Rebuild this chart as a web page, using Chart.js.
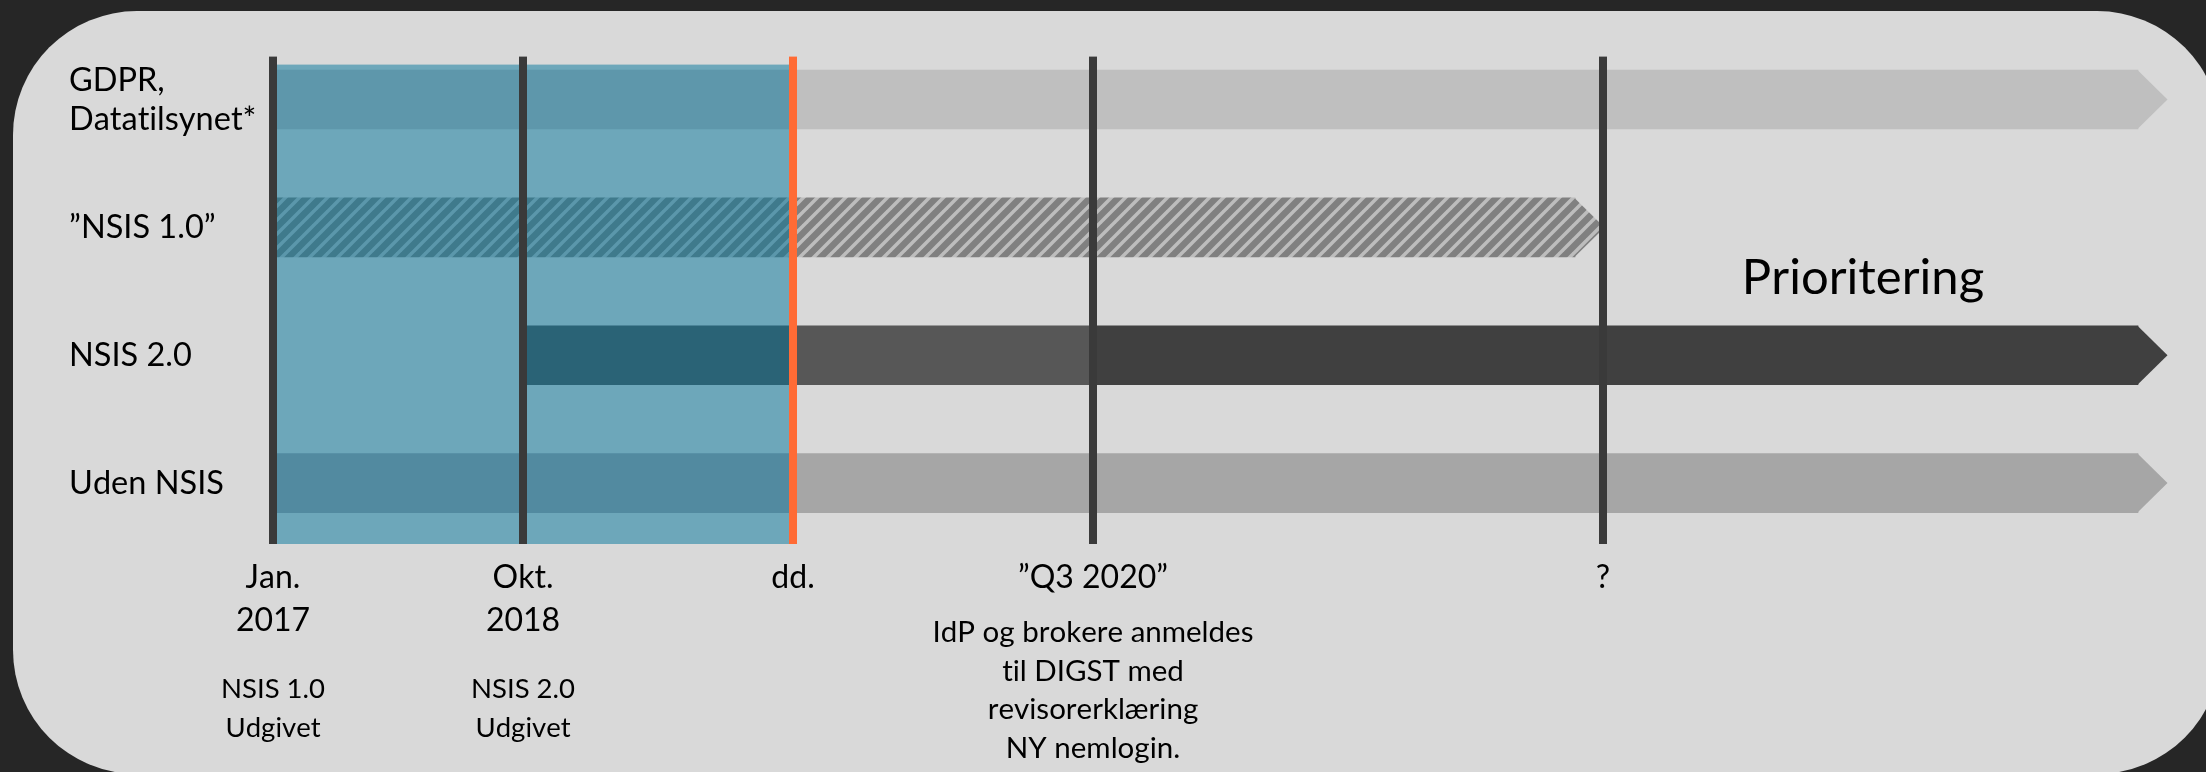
<!DOCTYPE html>
<html>
<head>
<meta charset="utf-8">
<script src="https://cdn.jsdelivr.net/npm/chart.js@4.4.1/dist/chart.umd.min.js"></script>
<style>
  html, body { margin: 0; padding: 0; background: #262626; }
  #wrap { position: relative; width: 2206px; height: 772px; overflow: hidden; }
  #panel { position: absolute; left: 13px; top: 11px; width: 2208px; height: 763px; background: #d9d9d9; border-radius: 124px; }
  #timeline { position: absolute; left: 0; top: 0; font-variant-ligatures: none; }
</style>
</head>
<body>
<div id="wrap">
  <div id="panel"></div>
  <canvas id="timeline" width="2206" height="772"></canvas>
</div>
<script>
const rows = [['GDPR,', 'Datatilsynet*'], '”NSIS 1.0”', 'NSIS 2.0', 'Uden NSIS'];

// schematic timeline units, not to calendar scale
const milestoneValues = [0, 25, 52, 82, 133];
const milestoneLabels = [['Jan.', '2017'], ['Okt.', '2018'], 'dd.', '”Q3 2020”', '?'];
const milestoneNotes = [
  ['NSIS 1.0', 'Udgivet'],
  ['NSIS 2.0', 'Udgivet'],
  [],
  ['IdP og brokere anmeldes', 'til DIGST med', 'revisorerklæring', 'NY nemlogin.'],
  []
];
const todayIndex = 2;

// bar spans per row: up to dd., from dd. on, after Q3 2020
const pastSpans = [[0, 52], [0, 52], [25, 52], [0, 52]];
const nextSpans = [[52, 186.5], [52, 130.2], [52, 82], [52, 186.5]];
const laterSpans = [null, null, [82, 186.5], null];

const priorityLabel = 'Prioritering';
const priorityAt = 159;

function stripes(dark, light) {
  const size = 14;
  const c = document.createElement('canvas');
  c.width = size; c.height = size;
  const g = c.getContext('2d');
  g.fillStyle = light;
  g.fillRect(0, 0, size, size);
  g.strokeStyle = dark;
  g.lineWidth = 6.5;
  g.beginPath();
  for (let k = -1; k <= 1; k++) {
    g.moveTo(k * size - 2, size + 2);
    g.lineTo(k * size + size + 2, -2);
  }
  g.stroke();
  return g.createPattern(c, 'repeat');
}

const pastColors = ['#5e97ab', stripes('#3f7a8c', '#5b97ab'), '#2a6376', '#528aa0'];
const nextColors = ['#bfbfbf', stripes('#808080', '#bdbdbd'), '#575757', '#a6a6a6'];
const laterColors = ['#bfbfbf', '#bfbfbf', '#404040', '#a6a6a6'];

Chart.defaults.font.family = 'Lato';
Chart.defaults.color = '#000';

// no "ti" ligatures, like the original slide font
const plainText = {
  id: 'plainText',
  beforeDraw(chart) {
    chart.ctx.textRendering = 'optimizeSpeed';
    chart.ctx.fontKerning = 'none';
  }
};

const backdrop = {
  id: 'backdrop',
  beforeDatasetsDraw(chart) {
    const {ctx, chartArea, scales: {x}} = chart;
    const x0 = x.getPixelForValue(milestoneValues[0]);
    const x1 = x.getPixelForValue(milestoneValues[todayIndex]);
    ctx.save();
    ctx.fillStyle = '#6da7ba';
    ctx.fillRect(x0, chartArea.top + 29, x1 - x0, chartArea.bottom - 3 - chartArea.top - 29);
    ctx.restore();
  }
};

const arrows = {
  id: 'arrows',
  afterDatasetsDraw(chart) {
    const ctx = chart.ctx;
    rows.forEach((r, row) => {
      let last = null;
      chart.data.datasets.forEach((ds, i) => {
        if (!ds.data[row]) return;
        const el = chart.getDatasetMeta(i).data[row];
        if (!last || el.x > last.x) last = el;
      });
      if (!last) return;
      const h = last.height;
      ctx.save();
      ctx.fillStyle = last.options.backgroundColor;
      ctx.beginPath();
      ctx.moveTo(last.x - 0.5, last.y - h / 2);
      ctx.lineTo(last.x + h / 2, last.y);
      ctx.lineTo(last.x - 0.5, last.y + h / 2);
      ctx.closePath();
      ctx.fill();
      ctx.restore();
    });

    const {chartArea, scales: {x}} = chart;
    const top = chartArea.top + 21;
    const bottom = chartArea.bottom - 3;
    ctx.save();
    milestoneValues.forEach((v, i) => {
      ctx.fillStyle = i === todayIndex ? '#ff6b35' : '#3a3a3a';
      ctx.fillRect(x.getPixelForValue(v) - 4, top, 8, bottom - top);
    });
    ctx.restore();
  }
};

const notes = {
  id: 'notes',
  afterDraw(chart) {
    const {ctx, chartArea, scales: {x, y}} = chart;
    ctx.save();
    ctx.fillStyle = '#000';
    ctx.textAlign = 'center';
    ctx.textBaseline = 'alphabetic';
    const first = chartArea.bottom + 95;
    milestoneNotes.forEach((lines, i) => {
      const px = x.getPixelForValue(milestoneValues[i]);
      const start = first + (4 - lines.length) * 28;
      ctx.font = (lines.length > 2 ? 29.5 : 27.5) + 'px Lato';
      lines.forEach((t, j) => ctx.fillText(t, px, start + j * 38.5));
    });
    ctx.font = '49px Lato';
    ctx.fillText(priorityLabel, x.getPixelForValue(priorityAt), y.getPixelForValue(2) - 61);
    ctx.restore();
  }
};

new Chart(document.getElementById('timeline'), {
  type: 'bar',
  data: {
    labels: rows,
    datasets: [
      { data: pastSpans, backgroundColor: pastColors },
      { data: nextSpans, backgroundColor: nextColors },
      { data: laterSpans, backgroundColor: laterColors }
    ]
  },
  options: {
    indexAxis: 'y',
    responsive: false,
    animation: false,
    grouped: false,
    barThickness: 59,
    borderWidth: 0,
    borderSkipped: false,
    layout: { padding: { left: 69, right: 33, top: 35.6, bottom: 0 } },
    plugins: {
      legend: { display: false },
      tooltip: { enabled: false }
    },
    scales: {
      x: {
        type: 'linear',
        min: 0,
        max: 190,
        position: 'bottom',
        afterBuildTicks: s => { s.ticks = milestoneValues.map(v => ({ value: v })); },
        afterFit: s => { s.height = 225; },
        ticks: {
          autoSkip: false,
          maxRotation: 0,
          padding: 9,
          font: { size: 32, lineHeight: 43 / 32 },
          callback: (v, i) => milestoneLabels[i]
        },
        grid: { display: false, drawTicks: false },
        border: { display: false }
      },
      y: {
        afterFit: s => { s.width = 204; },
        ticks: {
          crossAlign: 'far',
          padding: 0,
          font: { size: 32.5, lineHeight: 39 / 32.5 }
        },
        grid: { display: false, drawTicks: false },
        border: { display: false }
      }
    }
  },
  plugins: [plainText, backdrop, arrows, notes]
});
</script>
</body>
</html>
